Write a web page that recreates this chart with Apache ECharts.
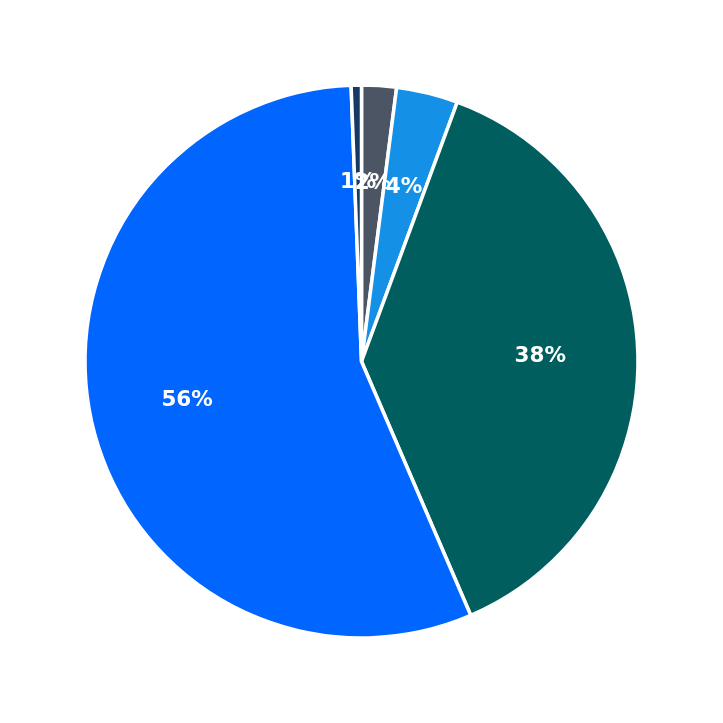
<!DOCTYPE html>
<html>
<head>
<meta charset="utf-8">
<script src="https://cdn.jsdelivr.net/npm/echarts@6/dist/echarts.min.js"></script>
<style>
html,body{margin:0;padding:0;background:#fff;}
#chart{width:723px;height:723px;}
</style>
</head>
<body>
<div id="chart"></div>
<script>
const categories = ['A', 'B', 'C', 'D', 'E'];
const values = [2.03, 3.6, 37.9, 55.87, 0.6];
const colors = ['#4b5563', '#1490e6', '#005f5e', '#0066ff', '#143a63'];

const data = categories.map((c, i) => ({ name: c, value: values[i], itemStyle: { color: colors[i] } }));
const labelData = categories.map((c, i) => ({ name: c, value: values[i] }));

const chart = echarts.init(document.getElementById('chart'));
chart.setOption({
  animation: false,
  series: [
    {
      type: 'pie',
      center: ['50%', '50%'],
      radius: [0, 276.5],
      startAngle: 90,
      clockwise: true,
      label: { show: false },
      labelLine: { show: false },
      itemStyle: { borderColor: '#ffffff', borderWidth: 3.5 },
      emphasis: { disabled: true },
      silent: true,
      data: data
    },
    {
      type: 'pie',
      center: ['50%', '50%'],
      radius: [75, 276.5],
      startAngle: 90,
      clockwise: true,
      itemStyle: { color: 'rgba(0,0,0,0)', borderWidth: 0 },
      label: {
        show: true,
        position: 'inside',
        color: '#ffffff',
        fontFamily: 'DejaVu Sans',
        fontWeight: 'bold',
        fontSize: 21.5,
        formatter: p => Math.round(p.percent) + '%'
      },
      labelLayout: { hideOverlap: false },
      labelLine: { show: false },
      emphasis: { disabled: true },
      silent: true,
      data: labelData
    }
  ]
});
</script>
</body>
</html>
